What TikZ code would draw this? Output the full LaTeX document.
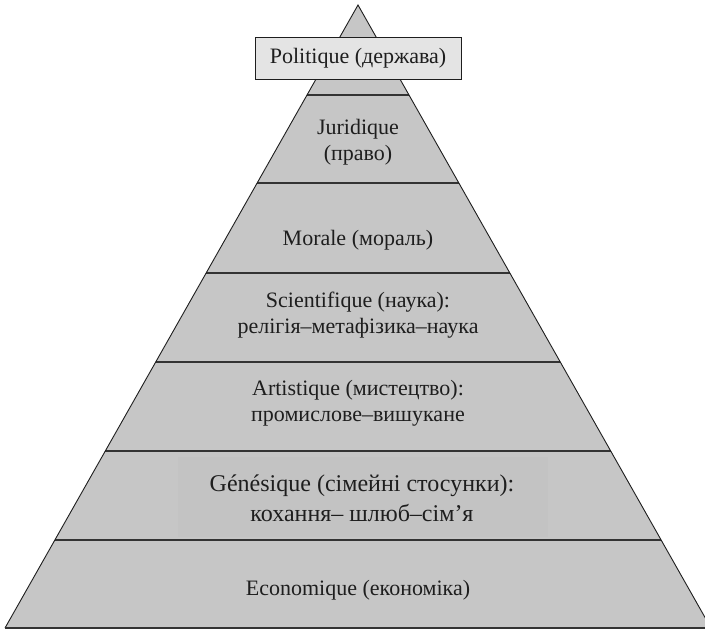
\documentclass[tikz,border=0pt]{standalone}
\usepackage{fontspec}
\setmainfont{Liberation Serif}
\usetikzlibrary{calc}
\definecolor{pyrfill}{HTML}{C6C6C6}
\definecolor{boxfill}{HTML}{E4E4E4}
\definecolor{genfill}{HTML}{C3C3C3}
\definecolor{ink}{HTML}{1E1E1E}
\definecolor{linecol}{HTML}{333333}
\begin{document}
\begin{tikzpicture}[x=1pt,y=-1pt,
  edge/.style={draw=ink,line width=0.9pt},
  layerline/.style={draw=linecol,line width=1.3pt},
  lbl/.style={text=ink,align=center,inner sep=0pt,font=\fontsize{22}{26}\selectfont},
  biglbl/.style={text=ink,align=center,inner sep=0pt,font=\fontsize{24}{30}\selectfont},
  topbox/.style={draw=ink,line width=0.9pt,fill=boxfill,text=ink,minimum width=206pt,minimum height=42pt,inner sep=0pt,font=\fontsize{22}{26}\selectfont}]
\useasboundingbox (0,0) rectangle (705,630);
\clip (0,0) rectangle (705,630);
\coordinate (apex) at (358,5);
\coordinate (bl) at (5,628);
\coordinate (br) at (711,628);
\fill[pyrfill] (apex)--(bl)--(br)--cycle;
\fill[genfill] (178,457) rectangle (548,537);
\foreach \y in {95,183,273,362,451,540} {
  \pgfmathsetmacro\hw{(\y-5)*0.5667}
  \draw[layerline] ({358-\hw},\y) -- ({358+\hw},\y);
}
\draw[edge] (bl)--(apex)--(br);
\draw[layerline] (bl)--(br);
\node[topbox] (pol) at (358,58) {Politique (держава)};
\node[lbl] (jur) at (358,142) {Juridique\\(право)};
\node[lbl] (mor) at (358,240) {Morale (мораль)};
\node[lbl] (sci) at (358,315) {Scientifique (наука):\\релігія–метафізика–наука};
\node[lbl] (art) at (358,403) {Artistique (мистецтво):\\промислове–вишукане};
\node[biglbl] (gen) at (362,498) {Génésique (сімейні стосунки):\\кохання– шлюб–сім’я};
\node[lbl] (eco) at (358,590) {Economique (економіка)};
\end{tikzpicture}
\end{document}
